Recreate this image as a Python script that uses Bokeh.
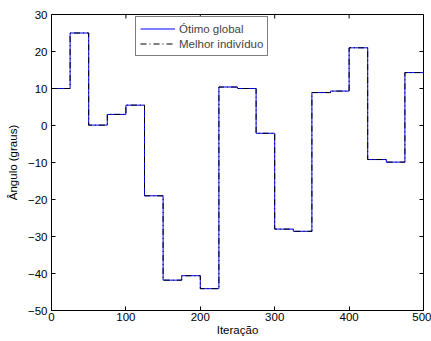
import math
from bokeh.plotting import figure
from bokeh.models import Legend, LegendItem, FixedTicker
from bokeh.embed import file_html
from bokeh.resources import INLINE

# Data: step values, one per block of 25 iterations
iteracoes = [0, 25, 50, 75, 100, 125, 150, 175, 200, 225, 250,
             275, 300, 325, 350, 375, 400, 425, 450, 475, 500]
otimo_global = [10.0, 25.0, 0.1, 3.0, 5.5, -19.0, -41.8, -40.6, -44.1, 10.4,
                10.0, -2.1, -28.0, -28.6, 8.9, 9.3, 21.0, -9.2, -9.9, 14.3]
melhor_individuo = [10.0, 25.0, 0.1, 3.0, 5.5, -19.0, -41.8, -40.6, -44.1, 10.4,
                    10.0, -2.1, -28.0, -28.6, 8.9, 9.3, 21.0, -9.2, -9.9, 14.3]
x_ticks = [0, 100, 200, 300, 400, 500]
y_ticks = [-50, -40, -30, -20, -10, 0, 10, 20, 30]
x_min, x_max = 0, 500
y_min, y_max = -50, 30

FONT = "Liberation Sans"
FS = "11.5px"

p = figure(width=431, height=341, x_range=(x_min, x_max), y_range=(y_min, y_max),
           output_backend="svg", toolbar_location=None,
           min_border_left=51, min_border_top=14, min_border_right=8, min_border_bottom=31)
p.xgrid.visible = False
p.ygrid.visible = False
p.outline_line_color = "black"
p.outline_line_width = 1
p.background_fill_color = "white"
p.border_fill_color = "white"

y_og = otimo_global + [otimo_global[-1]]
y_mi = melhor_individuo + [melhor_individuo[-1]]

r1 = p.step(iteracoes, y_og, mode="after", line_color="#0000ff", line_width=1)
r2 = p.step(iteracoes, y_mi, mode="after", line_color="black", line_width=1,
            line_dash="6 3 1 3")

# inward ticks on top and right edges (box style)
p.ray(x=x_ticks, y=[y_max] * len(x_ticks), length=4, length_units="screen",
      angle=-math.pi / 2, line_color="black", line_width=1)
p.ray(x=[x_max] * len(y_ticks), y=y_ticks, length=4, length_units="screen",
      angle=math.pi, line_color="black", line_width=1)

for ax in (p.xaxis[0], p.yaxis[0]):
    ax.major_tick_in = 4
    ax.major_tick_out = 0
    ax.minor_tick_line_color = None
    ax.axis_line_color = "black"
    ax.major_tick_line_color = "black"
    ax.major_label_text_font = FONT
    ax.major_label_text_font_size = FS
    ax.major_label_text_color = "black"
    ax.axis_label_text_font = FONT
    ax.axis_label_text_font_size = FS
    ax.axis_label_text_font_style = "normal"
    ax.axis_label_text_color = "black"

p.xaxis[0].major_label_standoff = 2
p.xaxis[0].axis_label_standoff = 0
p.yaxis[0].major_label_standoff = 4
p.yaxis[0].axis_label_standoff = 6

p.xaxis[0].ticker = FixedTicker(ticks=x_ticks)
p.yaxis[0].ticker = FixedTicker(ticks=y_ticks)
p.xaxis[0].axis_label = "Iteração"
p.yaxis[0].axis_label = "Ângulo (graus)"

legend = Legend(items=[LegendItem(label="Ótimo global", renderers=[r1]),
                       LegendItem(label="Melhor indivíduo", renderers=[r2])],
                location=(84, 254))
legend.border_line_color = "black"
legend.border_line_width = 1
legend.background_fill_color = "white"
legend.background_fill_alpha = 1
legend.label_text_font = FONT
legend.label_text_font_size = FS
legend.glyph_width = 35
legend.glyph_height = 15
legend.label_height = 15
legend.padding = 4
legend.spacing = 0
legend.margin = 0
legend.label_standoff = 4
p.add_layout(legend, "center")

open("out.html", "w").write(file_html(p, INLINE))
